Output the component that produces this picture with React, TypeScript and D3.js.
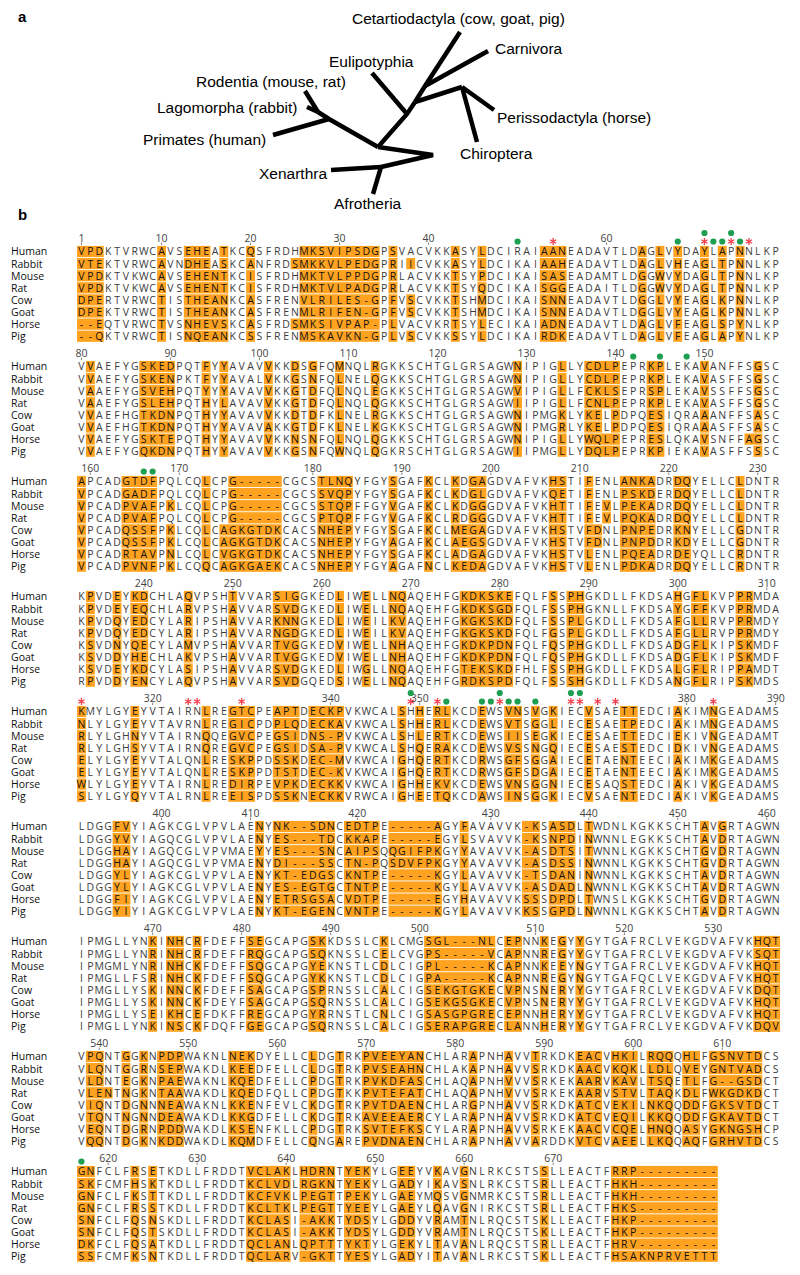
import React from 'react';
import * as d3 from 'd3';

// ---------------- Alignment data (uppercase / '-' = highlighted, lowercase = plain) ----------------
const speciesNames = ['Human', 'Rabbit', 'Mouse', 'Rat', 'Cow', 'Goat', 'Horse', 'Pig'];

const humanSeq = [
  'VPDktvrwcAvsEHEaTkcQsfrdhMKSVIPSDGpSvacvkkAsyLdciraiAANeadavtldAgLvYdaYlApNnlkp',
  'vVaefygSKEDpqtFyYavavVkkDsGfqMnqlRgkkschtglgrsagwNipigLlyCDLPeprKPlekaVanffsGsc',
  'ApcadGTDFpqlcqLcpG-----cgcsTLNQyfgySgafKclKdGAgdvafvkHStiFenlANKAdrDQyellcLdntr',
  'kPvdEyKDchlaQvpshTvvarSIGgkedLiwEllNQaqehfgKDKSKEfqlfSsPHgkdllfkdsaHgFLkvpPRmda',
  'KmylgyEyvtairnLreGTCpeAPTdECKPvkwcalShHeRLkcdEwsVNsVgKiecVsaeTTedciAkimNgeadams',
  'ldggFVyiagkcglvpvlaeNyNK--SDNcEDTPe-----AgyFavavvk-KsASDlTwdnlkgkkschtAvGrtagwn',
  'ipmgllynKiNHcRfdeffSEgcapgSKkdsslcKlcmgSGL---NLcEPnnKeGyYgytgafrclvekgdvafvkHQT',
  'vPQntGgKnPDPwaknlNEKdyellcLdgTrkPVEEYANchlarApnhAvvTrkdkEACvHKIlRQQqHLfGSNVTDcs',
  'GNfclfRsEtkdllfrddtVCLAKlHDRNtYEKylgEEyvKavGnlrkcstsSlleactfRRP---------',
];
const rabbitSeq = [
  'VTEktvrwcAvnDHEaSkcAnfrdSMKKVLPEDGpRiIcvkkAsyLdcikaiAAHeadavtldAgLvHeaGlTpNnlkp',
  'vVaefygSKENpktFyYavalVkkGsNfqLnelQgkkschtglgrsagwNipigLlyCDLPeprKPlekaVasffsGsc',
  'VpcadGADFpqlcqLcpG-----cgcsSVQPyfgySgafKclKdGLgdvafvkQEtiFenlPSKDerDQyellcLdntr',
  'kPvdEyEQchlaRvpshAvvarSVDgkedLiwEllNQaqehfgKDKSGDfqlfSsPHgknllfkdsaYgFFkvpPRmda',
  'NlylgyEyvtavrnLreGICpdPLQdECKAvkwcalShHeRLkcdEwsVTsGgLiecEsaeTPedciAkimNgeadams',
  'ldggYVyiagqcglvpvlaeNyES---TDcKKAPe-----EgyLsvavvk-KsNPDiNwnnlegkkschtAvDrtagwn',
  'ipmgllynRiNHcRfdeffRQgcapgSQknsslcElcvgPS-----VcAPnnReGyYgytgafrclvekgdvafvkSQT',
  'vLQntGgRnSEPwakdlKEEdfellcLdgTrkPVSEAHNchlakApnhAvvSrkdkAACvKQKlLDLqVEyGNTVADcs',
  'SKfcmfHsKtkdllfrddtKCLVDlRGKNtYEKylgADyiKavSnlrkcstsRlleactfHKH---------',
];
const mouseSeq = [
  'VPDktvkwcAvsEHENTkcIsfrdhMKTVLPPDGpRlacvkkTsyPdcikaiSASeadamtldGgWvYdaGlTpNnlkp',
  'vAaefygSVEHpqtYyYavavVkkGtDfqLnqlEgkkschtglgrsagwVipigLlfCKLSeprSPlekaVssffsGsc',
  'VpcadPVAFpKlcqLcpG-----cgcsSTQPffgyVgafKclKdGGgdvafvkHTtiFeVlPEKAdrDQyellcLdntr',
  'kPvdQyEDcylaRipshAvvarKNNgkedLiwEilKVaqehfgKGKSKDfqlfSsPLgkdllfkdsaFgLLrvpPRmdy',
  'RlylghNyvtairnQqeGVCpeGSIdNS-PvkwcalShLeRTkcdEwsIIsEgKiecEsaeTTedciEkivNgeadamt',
  'ldggHAyiagqcglvpvmaeYyES---SNcAIPSqQGIFPKgyYavavvk-AsDTSiTwnnlkgkkschtGvDrtagwn',
  'ipmgmlynRiNHcKfdeffSQgcapgYEknstlcDlcigPL-----KcAPnnKeEyNgytgafrclvekgdvafvkHQT',
  'vLDntEgKnPAEwaknlKQEdfellcPdgTrkPVKDFASchlaqApnhVvvSrkekAARvKAVlTSQeTLfG--GSDct',
  'GNfclfKsTtkdllfrddtKCFVKlPEGTtPEKylgAEymQsvGnmrkcstsRlleactfHKH---------',
];
const ratSeq = [
  'VPDktvkwcAvsEHENTkcIsfrdhMKTVLPADGpRlacvkkTsyQdcikaiSGGeadaitldGgWvYdaGlTpNnlkp',
  'vAaefygSLEHpqtHyLavavVkkGtDfqLnqlQgkkschtglgrsagwIipigLlfCNLPeprKPlekaVasffsGsc',
  'VpcadPVAFpqlcqLcpG-----cgcsPTQPffgyVgafKclRdGGgdvafvkHTtiFeVlPQKAdrDQyellcLdntr',
  'kPvdQyEDcylaRipshAvvarNGDgkedLiwEilKVaqehfgKGKSKDfqlfGsPLgkdllfkdsaFgLLrvpPRmdy',
  'RlylghSyvtairnQreGVCpeGSIdSA-PvkwcalShQeRAkcdEwsVSsNgQiecEsaeSTedciDkivNgeadams',
  'ldggHAyiagqcglvpvmaeNyDI---SScTN-PqSDVFPKgyYavavvk-AsDSSiNwnnlkgkkschtGvDrtagwn',
  'ipmgllfsRiNHcKfdeffSQgcapgYKknstlcDlcigPA-----KcAPnnReGyNgytgafqclvekgdvafvkHQT',
  'vLENtNgKnTAAwakdlKQEdfqllcPdgTkkPVTEFATchlaqApnhVvvSrkekAARvSTVlTAQkDLfWKGDKDct',
  'GNfclfRsStkdllfrddtKCLTKlPEGTtYEEylgAEylQavGnirkcstsRlleactfHKS---------',
];
const cowSeq = [
  'DPErtvrwcTisTHEANkcAsfrenVLRILES-GpFvScvkkTshMdcikaiSNNeadavtldGgLvYeaGlKpNnlkp',
  'vVaefhgTKDNpqtHyYavavVkkDtDfkLnelRgkkschtglgrsagwNipmgKlyKElPdpqESiqraAanffsAsc',
  'VpcadQSSFpKlcqLcAGKGTDKcacsNHEPyfgySgafKclMEGAgdvafvkHStvFDnlPNPEdrKNyellcGdntr',
  'kSvdNyQEcylaMvpshAvvarTVGgkedViwEllNHaqehfgKDKPDNfqlfQsPHgkdllfkdsaDgFLkipSKmdf',
  'ElylgyEyvtalqnLreSKPpdSSKdEC-MvkwcaiGhQeRTkcdRwsGFsGgAiecEtaeNTeeciAkimKgeadams',
  'ldggYLyiagkcglvpvlaeNyKT-EDGScKNTPe-----KgyLavavvk-TsDANiNwnnlkgkkschtAvDrtagwn',
  'ipmgllysKiNNcKfdeffSAgcapgSPrnsslcAlcigSEKGTGKEcVPnsNeRyYgytgafrclvekgdvafvkDQT',
  'vIQntDgNnNEAwaknlKKEnfevlcKdgTrkPVTDAENchlarGpnhAvvSrkdkATCvEKIlNKQqDDfGKSVTDct',
  'SNfclfQsNskdllfrddtKCLASi-AKKtYDSylgDDyvRamTnlrqcstsKlleactfHKP---------',
];
const goatSeq = [
  'DPEktvrwcTisTHEANkcAsfrenMLRIFEN-GpFvScvkkTshMdcikaiSNNeadavtldGgLvYeaGlKpNnlkp',
  'vVaefhgTKDNpqtHyYavavAkkGtDfkLnelKgkkschtglgrsagwNipmgRlyKElPdpqESiqraAasffsAsc',
  'VpcadQSSFpKlcqLcAGKGTDKcacsNHEPyfgyAgafKclAEGSgdvafvkHStvFDnlPNPDdrKDyellcGdntr',
  'kSvdDyHEchlaKvpshAvvarTVGgkedViwEllNHaqehfgKDKPDNfqlfQsPHgkdllfkdsaDgFLkipSKmdf',
  'ElylgyEyvtalqnLreSKPpdTSTdEC-KvkwcaiGhQeRTkcdRwsGFsDgAiecEtaeNTeeciAkimKgeadams',
  'ldggYLyiagkcglvpvlaeNyES-EGTGcTNTPe-----KgyLavavvk-AsDADlNwnnlkgkkschtAvDrtagwn',
  'ipmgllysKiNNcKfdeyfSAgcapgSQrnsslcAlcigSEKGSGKEcVPnsNeRyYgytgafrclvekgdvafvkHQT',
  'vTQntNgNnDEAwakdlKKGdfellcKdgTrkAVEEAERcylarApnhAvvSrkdkATCvEQIlKKQqDDfGKAVTDct',
  'SNfclfQsTskdllfrddtKCLASi-AKKtYDSylgDDyvRamTnlrqcstsKlleactfHKP---------',
];
const horseSeq = [
  '--EqtvrwcTvsNHEVSkcAsfrdSMKSIVPAP-pLvacvkrTsyLecikaiADNeadavtldAgLvFeaGlSpYnlkp',
  'vVaefygSKTEpqtHyYavavVkkNsNfqLnqlQgkkschtglgrsagwNipigLlyWQLPeprESlqkaVsnffAGsc',
  'VpcadRTAVpNlcqLcVGKGTDKcacsNHEPyfgySgafKclAdGAgdvafvkHStvLenlPQEAdrDEyqllcRdntr',
  'kSvdEyKDcylaSipshAvvarSVDgkedLiwGllNQaqehfgTEKSKDfhlfSsPHgkdllfkdsaLgFLripPAmdt',
  'WlylgyEyvtairnLreDIRpeVPKdECKKvkwcaiGhHeKVkcdEwsVNsGgNiecEsaqSTedciAkivKgeadams',
  'ldggFIyiagkcglvpvlaeNyETRSGSAcVDTPe-----EgyHavavvkSSsDPDlTwnslkgkkschtGvDrtagwn',
  'ipmgllysEiKHcEfdkffREgcapgYRrnstlcNlcigSASGPGREcEPnnHeRyYgytgafrclvekgdvafvkHQT',
  'vEQntDgRnPDDwakdlKSEnfkllcPdgTrkSVTEFKScylarApnhAvvSrkekAACvCQElHNQqASyGKNGSHcp',
  'DKfclfQsAtkdllfrddtQCLANlQPTTtYKTylgEKylTavAnlrqcstsRlleactfHRV---------',
];
const pigSeq = [
  '--QktvrwcTisNQEANkcSsfrenMSKAVKN-GpLvScvkkSsyLdcikaiRDKeadavtldAgLvFeaGlApYnlkp',
  'vVaefygQKDNpqtHyYavavVkkGsNfqWnqlQgkrschtglgrsagwIipmgLlyDQLPeprKPiekaVasffsSsc',
  'VpcadPVNFpKlcqQcAGKGAEKcacsNHEPyfgyAgafNclKEDAgdvafvkHStvLenlPDKAdrDQyellcRdntr',
  'rPvdDyENcylaQvpshAvvarSVDgqedSiwEllNQaqehfgRDKSPDfqlfSsSHgkdllfkdsaNgFLripSKmds',
  'SlylgyQyvtalrnLreEISpdSSKnECKKvrwcaiGhEeTQkcdAwsINsGgKiecVsaeNTedciAkivKgeadams',
  'ldggYIyiagkcglvpvlaeNyKT-EGENcVNTPe-----KgyLavavvkKSsGPDlNwnnlkgkkschtAvDrtagwn',
  'ipmgllynKiNScKfdqffGEgcapgSQrnsslcAlcigSERAPGREcLAnnHeRyYgytgafrclvekgdvafvkDQV',
  'vQQntDgKnKDDwakdlKQMdfellcQngArePVDNAENchlarApnhAvvArddkVTCvAEElLKQqAQfGRHVTDcs',
  'SSfcmfKsNtkdllfrddtQCLARv-GKTtYESylgADyiTavAnlrkcstsKlleactfHSAKNPRVETTT',
];
const alignment = [humanSeq, rabbitSeq, mouseSeq, ratSeq, cowSeq, goatSeq, horseSeq, pigSeq];

// marked sites, human residue numbering
const starSites = [54, 71, 74, 76, 312, 324, 325, 330, 349, 352, 359, 367, 368, 370, 372, 383];
const dotSites = [50, 68, 71, 72, 73, 74, 75, 142, 145, 148, 166, 167, 349, 353, 357, 358, 359, 360, 361, 363, 367, 368, 617];

// ---------------- Tree (panel a) : layout of the hand-drawn unrooted tree ----------------
const treeNodes: Record<string, [number, number]> = {
  primTip: [273, 135], primJ: [329, 119], glires: [318, 112], rodTip: [305, 91], lagTip: [307, 107],
  bor: [378, 147], root: [433, 155], xa: [381, 167], xenTip: [331, 170], afrTip: [373, 194],
  l1: [407, 114], euliTip: [372, 73], l2: [415, 102], cc: [425, 86], cetTip: [460, 32], carTip: [488, 51],
  pc: [462, 87], periTip: [494, 110], chiTip: [477, 142],
};
const treePaths = [
  ['primTip', 'primJ'], ['glires', 'primJ', 'bor'], ['rodTip', 'glires'], ['lagTip', 'glires'],
  ['bor', 'root', 'xa'], ['xa', 'xenTip'], ['xa', 'afrTip'], ['bor', 'l1', 'l2'], ['l1', 'euliTip'],
  ['l2', 'cc', 'cetTip'], ['cc', 'carTip'], ['l2', 'pc'], ['pc', 'periTip'], ['pc', 'chiTip'],
];
const treeLabels: [string, number, number][] = [
  ['Cetartiodactyla (cow, goat, pig)', 352, 24],
  ['Carnivora', 495, 54],
  ['Eulipotyphia', 329, 67],
  ['Rodentia (mouse, rat)', 196, 87],
  ['Lagomorpha (rabbit)', 157, 113],
  ['Perissodactyla (horse)', 497, 123],
  ['Primates (human)', 143, 145],
  ['Chiroptera', 460, 159],
  ['Xenarthra', 259, 179],
  ['Afrotheria', 334, 209],
];

const ORANGE = '#FFA21F';
const GREEN = '#1E9E50';
const RED = '#EE3D4B';

const isHi = (ch: string) => ch === '-' || (ch >= 'A' && ch <= 'Z');

export default function App() {
  const W = 800, H = 1275;
  const colW = 8.9;
  const x = d3.scaleLinear().domain([0, 79]).range([77, 77 + 79 * colW]);
  const blockY = d3.scaleLinear().domain([0, 8]).range([251.5, 251.5 + 8 * 115]);
  const rowY = d3.scaleLinear().domain([0, 7]).range([0, 7 * 12.1]);

  // human residue numbering per block/column
  const humanNum: (number | null)[][] = [];
  const resPos = new Map<number, [number, number]>();
  let n = 0;
  humanSeq.forEach((blk, b) => {
    const arr: (number | null)[] = [];
    for (let c = 0; c < blk.length; c++) {
      if (blk[c] === '-') arr.push(null);
      else { n++; arr.push(n); resPos.set(n, [b, c]); }
    }
    humanNum.push(arr);
  });

  const starSet = new Set(starSites);
  const markerCols = new Set<string>();
  [...starSites, ...dotSites].forEach(r => { const p = resPos.get(r); if (p) markerCols.add(p[0] + ':' + p[1]); });

  const line = d3.line<[number, number]>().x(d => d[0]).y(d => d[1]);
  const seqFont = "'Open Sans', 'DejaVu Sans', sans-serif";
  const arial = "'Liberation Sans', Arial, sans-serif";

  const blocks = humanSeq.map((_, b) => {
    const y0 = blockY(b);
    const els: React.ReactNode[] = [];
    // ticks / numbers
    humanNum[b].forEach((num, c) => {
      if (num == null) return;
      if (!(num === 1 || num % 10 === 0)) return;
      if (markerCols.has(b + ':' + c) || markerCols.has(b + ':' + (c + 1))) return;
      const cx = x(c + 0.5);
      els.push(<text key={'n' + c} x={cx} y={y0 - 10} textAnchor="middle" fontSize={10.5} fill="#444" fontFamily={seqFont}>{num}</text>);
      els.push(<line key={'t' + c} x1={cx} x2={cx} y1={y0 - 9} y2={y0 - 6.5} stroke="#666" strokeWidth={0.8} />);
    });
    // rows
    alignment.forEach((sp, r) => {
      const s = sp[b];
      const yc = y0 + rowY(r);
      let c = 0;
      while (c < s.length) {
        if (isHi(s[c])) {
          let e = c;
          while (e + 1 < s.length && isHi(s[e + 1])) e++;
          els.push(<rect key={`h${r}-${c}`} x={x(c)} y={yc - 5.6} width={x(e + 1) - x(c)} height={11.2} fill={ORANGE} />);
          c = e + 1;
        } else c++;
      }
      for (let k = 0; k < s.length; k++) {
        const ch = s[k];
        els.push(
          <text key={`c${r}-${k}`} x={x(k + 0.5)} y={yc + 3.9} textAnchor="middle" fontSize={10.5}
            fill={isHi(ch) ? '#111' : '#3c3c3c'} fontFamily={seqFont}>{ch.toUpperCase()}</text>
        );
      }
      els.push(<text key={'lab' + r} x={11} y={yc + 3.9} fontSize={10.5} fill="#111" fontFamily={seqFont}>{speciesNames[r]}</text>);
    });
    return <g key={'b' + b}>{els}</g>;
  });

  // markers
  const markers: React.ReactNode[] = [];
  starSites.forEach(r => {
    const p = resPos.get(r); if (!p) return;
    const cx = x(p[1] + 0.5), cy = blockY(p[0]) - 10;
    const len = 3.6;
    [90, 30, 150].forEach(a => {
      const rad = (a * Math.PI) / 180;
      markers.push(<line key={`s${r}-${a}`} x1={cx - len * Math.cos(rad)} y1={cy - len * Math.sin(rad)}
        x2={cx + len * Math.cos(rad)} y2={cy + len * Math.sin(rad)} stroke={RED} strokeWidth={1.3} />);
    });
  });
  dotSites.forEach(r => {
    const p = resPos.get(r); if (!p) return;
    const cx = x(p[1] + 0.5);
    const cy = blockY(p[0]) - (starSet.has(r) ? 18.5 : 10);
    markers.push(<circle key={'d' + r} cx={cx} cy={cy} r={3.1} fill={GREEN} />);
  });

  return (
    <svg width={W} height={H} style={{ position: 'absolute', left: 0, top: 0, background: '#fff' }}>
      <rect width={W} height={H} fill="#fff" />
      <text x={18} y={22} fontSize={15} fontWeight="bold" fontFamily={arial}>a</text>
      <text x={18} y={220} fontSize={15} fontWeight="bold" fontFamily={arial}>b</text>
      {treePaths.map((p, i) => (
        <path key={'tp' + i} d={line(p.map(id => treeNodes[id])) || ''} fill="none" stroke="#000"
          strokeWidth={4.5} strokeLinejoin="miter" strokeLinecap="butt" />
      ))}
      {treeLabels.map(([t, lx, ly]) => (
        <text key={t} x={lx} y={ly} fontSize={15.5} fontFamily={arial} fill="#000">{t}</text>
      ))}
      {blocks}
      {markers}
    </svg>
  );
}
